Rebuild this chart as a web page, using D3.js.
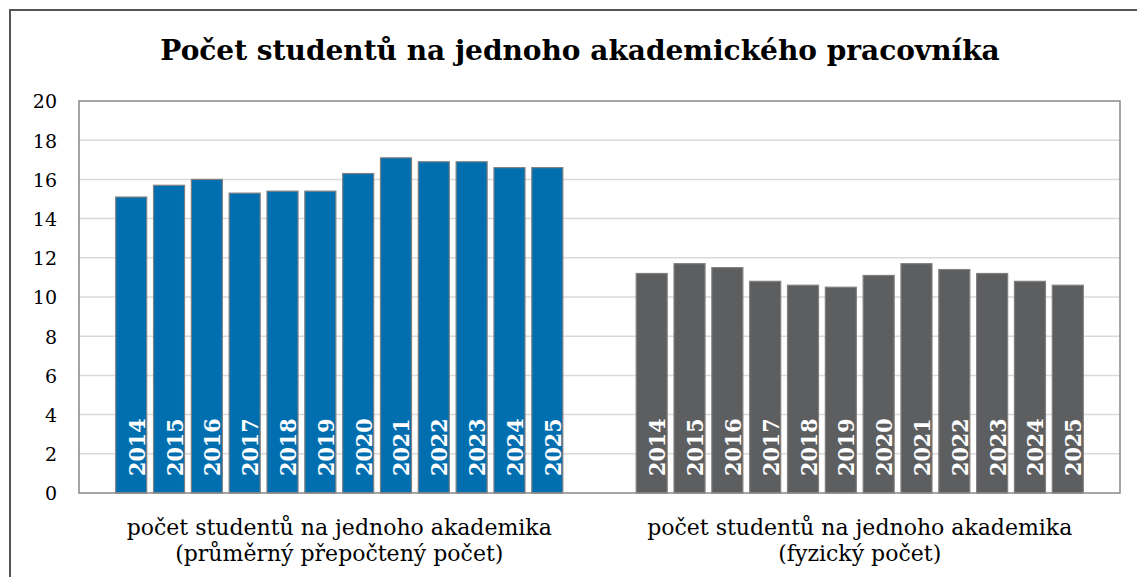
<!DOCTYPE html>
<html>
<head>
<meta charset="utf-8">
<script src="https://cdn.jsdelivr.net/npm/d3@7"></script>
<style>
  html, body { margin: 0; padding: 0; background: #fff; }
  text { font-family: "DejaVu Serif", "Liberation Serif", serif; }
</style>
</head>
<body>
<div id="chart"></div>
<script>
// two measures, twelve years each
var categories = ["prepocteny", "fyzicky"];
var categoryLines = [
    ["počet studentů na jednoho akademika", "(průměrný přepočtený počet)"],
    ["počet studentů na jednoho akademika", "(fyzický počet)"]
];
var years = ["2014", "2015", "2016", "2017", "2018", "2019",
             "2020", "2021", "2022", "2023", "2024", "2025"];
var prepocteny = [15.1, 15.7, 16.0, 15.3, 15.4, 15.4, 16.3, 17.1, 16.9, 16.9, 16.6, 16.6];
var fyzicky    = [11.2, 11.7, 11.5, 10.8, 10.6, 10.5, 11.1, 11.7, 11.4, 11.2, 10.8, 10.6];
var yTicks = [0, 2, 4, 6, 8, 10, 12, 14, 16, 18, 20];
var title = "Počet studentů na jednoho akademického pracovníka";

var w = 1137;
var h = 577;
var plot = {left: 79, right: 1120, top: 101, bottom: 493};
var colors = {prepocteny: "#006eaf", fyzicky: "#5d5e60"};

var series = [prepocteny, fyzicky];

var svg = d3.select("#chart")
            .append("svg")
            .attr("width", w)
            .attr("height", h);

// outer chart frame (only top and left visible)
svg.append("path")
    .attr("d", "M10," + (h + 5) + "V10H" + (w + 5))
    .attr("fill", "none")
    .attr("stroke", "#555")
    .attr("stroke-width", 2);

svg.append("text")
    .attr("x", 580)
    .attr("y", 60)
    .attr("text-anchor", "middle")
    .style("font-size", "28px")
    .style("font-weight", "bold")
    .style("fill", "#000")
    .text(title);

var x0 = d3.scaleBand()
           .domain(categories)
           .range([plot.left, plot.right]);

var x1 = d3.scaleBand()
           .domain(years)
           .range([0, x0.bandwidth()])
           .paddingInner(0.18)
           .paddingOuter(0.97);

var yscale = d3.scaleLinear()
               .domain([0, 20])
               .range([plot.bottom, plot.top]);

// gridlines
svg.append("g")
    .selectAll("line")
    .data(yTicks.filter(function(d) { return d > 0 && d < 20; }))
    .enter()
    .append("line")
    .attr("x1", plot.left)
    .attr("x2", plot.right)
    .attr("y1", function(d) { return yscale(d); })
    .attr("y2", function(d) { return yscale(d); })
    .attr("stroke", "#d9d9d9")
    .attr("stroke-width", 1.5);

// y axis labels
var yaxis = d3.axisLeft(yscale)
              .tickValues(yTicks)
              .tickSize(0)
              .tickPadding(0);

var gy = svg.append("g")
    .attr("transform", "translate(57,0)")
    .call(yaxis);
gy.select(".domain").remove();
gy.selectAll("text")
    .attr("dy", "0.36em")
    .style("font-family", "'DejaVu Serif', serif")
    .style("font-size", "19px")
    .style("fill", "#000");

// bars
var groups = svg.selectAll("g.grp")
    .data(categories)
    .enter()
    .append("g")
    .attr("class", "grp")
    .attr("transform", function(d) { return "translate(" + x0(d) + ",0)"; });

groups.each(function(cat, i) {
    var g = d3.select(this);
    var vals = years.map(function(yr, j) { return {year: yr, value: series[i][j]}; });

    g.selectAll("rect")
        .data(vals)
        .enter()
        .append("rect")
        .attr("x", function(d) { return x1(d.year); })
        .attr("y", function(d) { return yscale(d.value); })
        .attr("width", x1.bandwidth())
        .attr("height", function(d) { return yscale(0) - yscale(d.value); })
        .attr("fill", colors[cat])
        .attr("stroke", "#808080")
        .attr("stroke-width", 1.2);

    g.selectAll("text.yr")
        .data(vals)
        .enter()
        .append("text")
        .attr("class", "yr")
        .attr("transform", function(d) {
            var tx = x1(d.year) + x1.bandwidth() - 2;
            var ty = yscale(0) - 17;
            return "translate(" + tx + "," + ty + ") rotate(-90)";
        })
        .attr("text-anchor", "start")
        .style("font-family", "'DejaVu Serif Condensed', 'DejaVu Serif', serif")
        .style("font-stretch", "condensed")
        .style("font-weight", "bold")
        .style("font-size", "23px")
        .style("fill", "#fff")
        .text(function(d) { return d.year; });

    // category label under the group
    g.selectAll("text.cat")
        .data(categoryLines[i])
        .enter()
        .append("text")
        .attr("class", "cat")
        .attr("x", x0.bandwidth() / 2)
        .attr("y", function(d, k) { return 535 + k * 26; })
        .attr("text-anchor", "middle")
        .style("font-size", "22px")
        .style("fill", "#000")
        .text(function(d) { return d; });
});

// plot area border
svg.append("rect")
    .attr("x", plot.left)
    .attr("y", plot.top)
    .attr("width", plot.right - plot.left)
    .attr("height", plot.bottom - plot.top)
    .attr("fill", "none")
    .attr("stroke", "#888")
    .attr("stroke-width", 1.5);
</script>
</body>
</html>
